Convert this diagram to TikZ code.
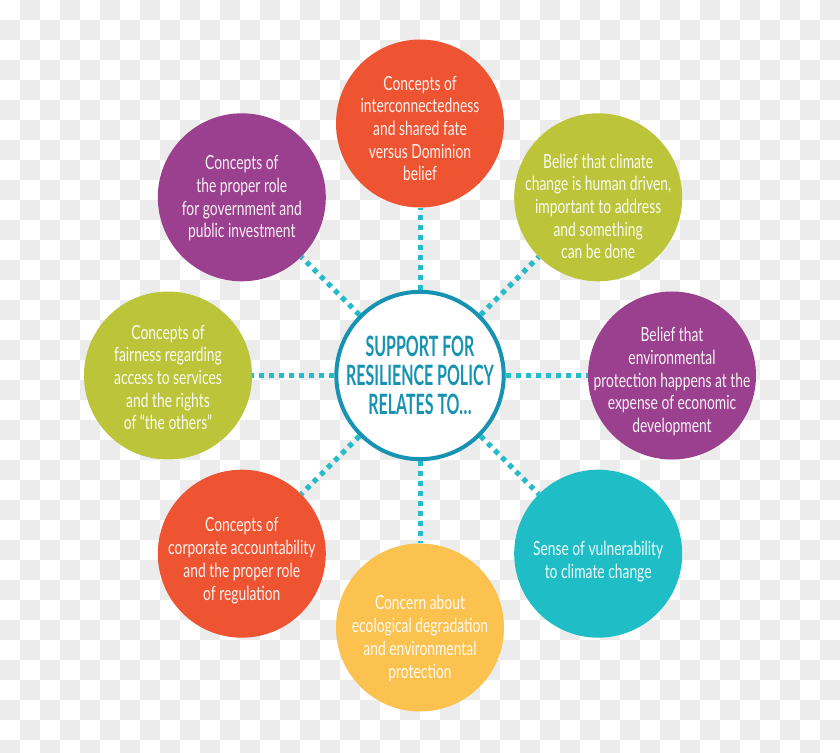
\documentclass[tikz,border=0pt]{standalone}
\usepackage{fontspec}
\setmainfont{Lato}[FakeStretch=0.71]
\newfontfamily\hubfont{Lato}[FakeStretch=0.57]
\usepackage{tikz}
\usetikzlibrary{positioning, calc}
\usepackage{xcolor}
\definecolor{OrangeC}{RGB}{238,84,50}
\definecolor{PurpleC}{RGB}{155,64,142}
\definecolor{LimeC}{RGB}{188,196,58}
\definecolor{TealC}{RGB}{31,190,198}
\definecolor{YellowC}{RGB}{251,194,80}
\definecolor{HubTeal}{RGB}{22,146,178}
\definecolor{LinkTeal}{RGB}{38,187,200}
\definecolor{CheckGray}{RGB}{236,236,236}

\tikzset{
  bubble/.style={circle, minimum size=168pt, inner sep=0pt},
  caption/.style={align=center, inner sep=0pt, text=white, text opacity=0.92,
    font=\fontsize{19.5}{22.7}\selectfont},
  hub/.style={circle, draw=HubTeal, line width=4pt, fill=white,
    minimum size=166pt, inner sep=0pt, align=center, text=HubTeal,
    font=\hubfont\bfseries\fontsize{28}{29}\selectfont},
  link/.style={draw=LinkTeal, line width=5pt, dash pattern=on 5pt off 5pt}
}

\begin{document}
\begin{tikzpicture}[x=1pt, y=1pt]
\useasboundingbox (-420,-376.5) rectangle (420,375.5);
\fill[white] (-420,-376.5) rectangle (420,375.5);
% checker backdrop
\begin{scope}
\clip (-420,-376.5) rectangle (420,375.5);
\foreach \i in {0,...,41}{
  \foreach \j in {0,...,37}{
    \pgfmathtruncatemacro\chk{mod(\i+\j,2)}
    \ifnum\chk=1
      \fill[CheckGray] ({20*\i-420},{375.5-20*\j}) rectangle ++(20,-20);
    \fi
  }
}
\end{scope}

\node[hub] (hub) at (0,0) {SUPPORT FOR\\RESILIENCE POLICY\\RELATES TO\ldots};

\node[bubble, fill=OrangeC] (fate) at (90:252pt) {};
\node[caption, yshift=-5pt] (fate-txt) at (fate)
  {Concepts of\\interconnectedness\\and shared fate\\versus Dominion\\belief};
\node[bubble, fill=LimeC] (climate) at (45:252pt) {};
\node[caption, yshift=-9pt] (climate-txt) at (climate)
  {Belief that climate\\change is human driven,\\important to address\\and something\\can be done};
\node[bubble, fill=PurpleC] (economy) at (0:252pt) {};
\node[caption, yshift=-6pt] (economy-txt) at (economy)
  {Belief that\\environmental\\protection happens at the\\expense of economic\\development};
\node[bubble, fill=TealC] (vulner) at (-45:252pt) {};
\node[caption, yshift=-8pt] (vulner-txt) at (vulner)
  {Sense of vulnerability\\to climate change};
\node[bubble, fill=YellowC] (ecology) at (-90:252pt) {};
\node[caption, yshift=-11pt] (ecology-txt) at (ecology)
  {Concern about\\ecological degradation\\and environmental\\protection};
\node[bubble, fill=OrangeC] (regulation) at (-135:252pt) {};
\node[caption, yshift=-7pt] (regulation-txt) at (regulation)
  {Concepts of\\corporate accountability\\and the proper role\\of regulation};
\node[bubble, fill=LimeC] (fairness) at (180:252pt) {};
\node[caption, yshift=-2pt] (fairness-txt) at (fairness)
  {Concepts of\\fairness regarding\\access to services\\and the rights\\of “the others”};
\node[bubble, fill=PurpleC] (government) at (135:252pt) {};
\node[caption, yshift=-1pt] (government-txt) at (government)
  {Concepts of\\the proper role\\for government and\\public investment};

\foreach \n in {fate, climate, economy, vulner, ecology, regulation, fairness, government}
  \draw[link] (hub) -- (\n);
\end{tikzpicture}
\end{document}
